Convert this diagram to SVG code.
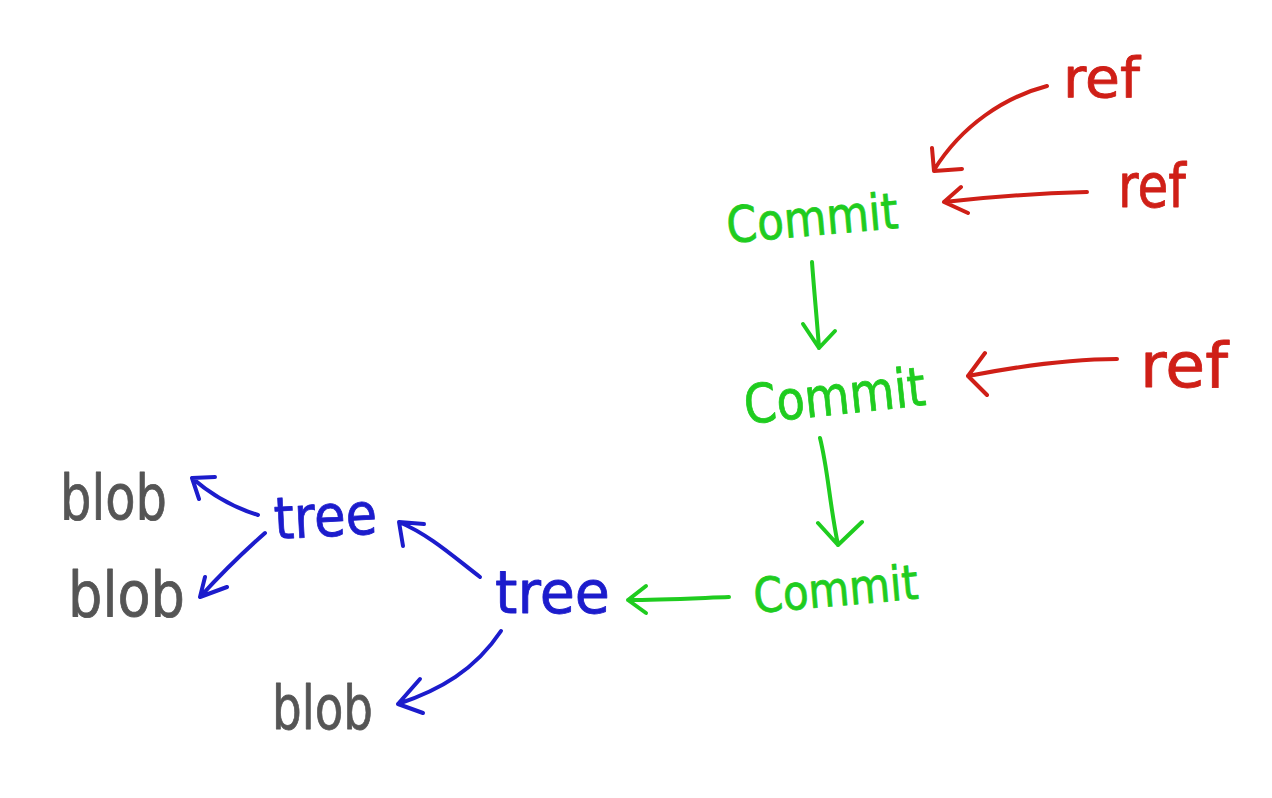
<svg xmlns="http://www.w3.org/2000/svg" width="1272" height="798" viewBox="0 0 1272 798">
  <style>
    text { font-family: "DejaVu Sans", "Liberation Sans", sans-serif; stroke-width: 0.8; stroke-linejoin: round; }
    .ref { fill: #cf1f17; stroke: #cf1f17; }
    .commit { fill: #1fcc1f; stroke: #1fcc1f; }
    .tree { fill: #1c1ccc; stroke: #1c1ccc; }
    .blob { fill: #555555; stroke: #555555; }
    .edge { fill: none; stroke-width: 4; stroke-linecap: round; stroke-linejoin: round; }
    .edge.red { stroke: #cf1f17; }
    .edge.green { stroke: #1fcc1f; }
    .edge.blue { stroke: #1c1ccc; }
  </style>
  <rect width="1272" height="798" fill="#ffffff"/>

  <g id="connectors">
    <!-- refs pointing at commits -->
    <path class="edge red" d="M1047,86 C1005,97 962,125 934,170 M932,148 L934,171 L962,169"/>
    <path class="edge red" d="M1087,192 C1050,193 1005,195 944,202 M961,187 L944,202 L968,213"/>
    <path class="edge red" d="M1117,359 C1080,359 1030,364 968,376 M985,353 L968,376 L987,395"/>
    <!-- commit history -->
    <path class="edge green" d="M812,262 C814,290 817,320 819,348 M803,324 L819,348 L835,331"/>
    <path class="edge green" d="M820,438 C828,470 829,500 838,545 M818,523 L838,545 L862,522"/>
    <path class="edge green" d="M729,597 C700,598 660,600 628,600 M646,586 L628,600 L646,613"/>
    <!-- trees to children -->
    <path class="edge blue" d="M480,577 C455,558 430,535 399,522 M403,546 L399,522 L424,524"/>
    <path class="edge blue" d="M258,515 C235,508 215,498 192,478 M199,499 L192,478 L215,477"/>
    <path class="edge blue" d="M265,533 C240,555 220,575 200,597 M205,577 L200,597 L227,587"/>
    <path class="edge blue" d="M501,631 C475,670 440,690 398,704 M420,679 L398,704 L423,713"/>
  </g>

  <g id="ref-1"><text class="ref" x="1063" y="97" font-size="56" textLength="77" lengthAdjust="spacingAndGlyphs">ref</text></g>
  <g id="ref-2"><text class="ref" x="1118" y="207" font-size="60" textLength="68" lengthAdjust="spacingAndGlyphs">ref</text></g>
  <g id="ref-3"><text class="ref" x="1140" y="387" font-size="62" textLength="88" lengthAdjust="spacingAndGlyphs">ref</text></g>

  <g id="commit-1"><text class="commit" x="728" y="243" font-size="50" textLength="172" lengthAdjust="spacingAndGlyphs" transform="rotate(-5 728 243)">Commit</text></g>
  <g id="commit-2"><text class="commit" x="746" y="424" font-size="54" textLength="182" lengthAdjust="spacingAndGlyphs" transform="rotate(-6 746 424)">Commit</text></g>
  <g id="commit-3"><text class="commit" x="755" y="613" font-size="48" textLength="165" lengthAdjust="spacingAndGlyphs" transform="rotate(-5 755 613)">Commit</text></g>

  <g id="tree-1"><text class="tree" x="275" y="539" font-size="58" textLength="103" lengthAdjust="spacingAndGlyphs" transform="rotate(-3 275 539)">tree</text></g>
  <g id="tree-2"><text class="tree" x="495" y="613" font-size="58" textLength="115" lengthAdjust="spacingAndGlyphs">tree</text></g>

  <g id="blob-1"><text class="blob" x="60" y="519" font-size="62" textLength="107" lengthAdjust="spacingAndGlyphs">blob</text></g>
  <g id="blob-2"><text class="blob" x="68" y="616" font-size="62" textLength="117" lengthAdjust="spacingAndGlyphs">blob</text></g>
  <g id="blob-3"><text class="blob" x="272" y="729" font-size="60" textLength="101" lengthAdjust="spacingAndGlyphs">blob</text></g>
</svg>
